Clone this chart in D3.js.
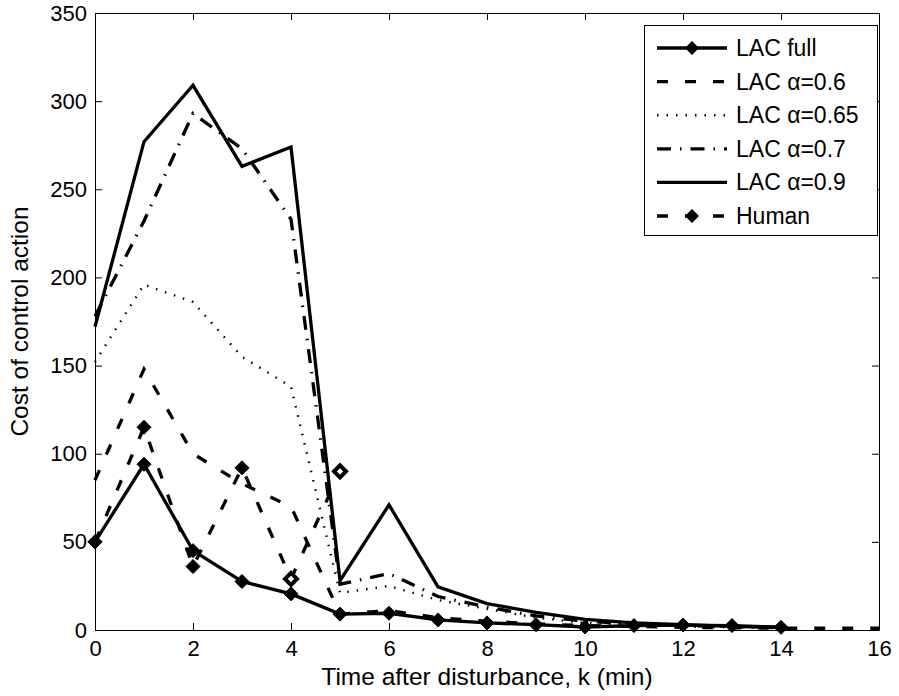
<html>
<head>
  <script src="https://d3js.org/d3.v7.min.js"></script>
<title>Cost of control action</title>
<style>
  body { margin: 0; background: #fff; }
  text { font-family: "Liberation Sans", Arial, Helvetica, sans-serif; fill: #000; }
</style>
</head>
<body>

<div id="chart"></div>

<script type="text/javascript">

// values, one entry per minute starting at k = 0
var lacFull = [50, 94, 45, 27.5, 20.5, 9, 9.5, 5.7, 4, 3, 1.7, 2.5, 2.8, 2.5, 1.5];
var lac060  = [85, 148, 100, 83, 70, 9, 11, 7, 5, 3.5, 2.5, 2, 1.5, 1.2, 1, 1, 1];
var lac065  = [152, 196, 186, 155, 138, 21, 25, 17, 12, 7, 4, 3, 2, 1.5, 1];
var lac070  = [178, 232, 293, 273, 233, 26, 32, 19, 13, 8, 5, 3.5, 2.5, 2, 1.5];
var lac090  = [172, 277, 309, 263, 274, 28, 71, 24.5, 15, 10, 6, 4, 3, 2, 1.5];
var human   = [50, 115, 36, 92, 29, 90];

var seriesNames = ["LAC full", "LAC \u03b1=0.6", "LAC \u03b1=0.65", "LAC \u03b1=0.7", "LAC \u03b1=0.9", "Human"];
var xTicks = [0, 2, 4, 6, 8, 10, 12, 14, 16];
var yTicks = [0, 50, 100, 150, 200, 250, 300, 350];

var W = 899, H = 696;
// (plotTop, not "top": that name is taken by window.top)
var plotLeft = 95, plotRight = 879, plotTop = 13, plotBottom = 630;

var svg = d3.select("#chart").append("svg")
  .attr("width", W).attr("height", H);

var x = d3.scaleLinear().domain([0, 16]).range([plotLeft, plotRight]);
var y = d3.scaleLinear().domain([0, 350]).range([plotBottom, plotTop]);

// axes with inward ticks on all four sides (matlab box style)
var tl = 7;
function styleAxis(g) {
  g.selectAll("path.domain").attr("stroke", "#000").attr("stroke-width", 1);
  g.selectAll(".tick line").attr("stroke", "#000").attr("stroke-width", 1);
  g.selectAll(".tick text").style("font-size", "22px")
    .style("font-family", "'Liberation Sans', Arial, sans-serif").attr("fill", "#000");
}
svg.append("g").attr("transform", "translate(0," + plotBottom + ")")
  .call(d3.axisBottom(x).tickValues(xTicks).tickSizeInner(-tl).tickSizeOuter(0).tickPadding(10))
  .call(styleAxis);
svg.append("g").attr("transform", "translate(0," + plotTop + ")")
  .call(d3.axisTop(x).tickValues(xTicks).tickSizeInner(-tl).tickSizeOuter(0).tickFormat(""))
  .call(styleAxis);
svg.append("g").attr("transform", "translate(" + plotLeft + ",0)")
  .call(d3.axisLeft(y).tickValues(yTicks).tickSizeInner(-tl).tickSizeOuter(0).tickPadding(8))
  .call(styleAxis);
svg.append("g").attr("transform", "translate(" + plotRight + ",0)")
  .call(d3.axisRight(y).tickValues(yTicks).tickSizeInner(-tl).tickSizeOuter(0).tickFormat(""))
  .call(styleAxis);

// axis titles
svg.append("text")
  .attr("x", (plotLeft + plotRight) / 2).attr("y", 685)
  .attr("text-anchor", "middle")
  .style("font-size", "24.5px")
  .text("Time after disturbance, k (min)");
svg.append("text")
  .attr("transform", "translate(28," + ((plotTop + plotBottom) / 2) + ") rotate(-90)")
  .attr("text-anchor", "middle")
  .style("font-size", "24.5px")
  .text("Cost of control action");

// line styles per series
var styles = [
  { dash: null,         width: 3.3, marker: true },
  { dash: "11,17",      width: 3.3, marker: false },
  { dash: "1.5,8",      width: 2.4, marker: false },
  { dash: "14,9,1.5,9", width: 3.3, marker: false },
  { dash: null,         width: 3.3, marker: false },
  { dash: "11,17",      width: 3.3, marker: true }
];
var allSeries = [lacFull, lac060, lac065, lac070, lac090, human];

var line = d3.line()
  .x(function (d, i) { return x(i); })
  .y(function (d) { return y(d); });

function diamond(s) {
  return "M0," + (-s) + "L" + s + ",0L0," + s + "L" + (-s) + ",0Z";
}

var plot = svg.append("g");
allSeries.forEach(function (vals, k) {
  var st = styles[k];
  plot.append("path")
    .attr("d", line(vals))
    .attr("fill", "none")
    .attr("stroke", "#000")
    .attr("stroke-width", st.width)
    .attr("stroke-linejoin", "miter")
    .attr("stroke-linecap", "butt")
    .attr("stroke-dasharray", st.dash);
  if (st.marker) {
    plot.selectAll(null)
      .data(vals)
      .enter()
      .append("path")
        .attr("transform", function (d, i) { return "translate(" + x(i) + "," + y(d) + ")"; })
        .attr("d", function (d, i) { return (k === 5 && i >= 4) ? diamond(6) : diamond(7); })
        // the last two human points show as open diamonds in the figure
        .attr("fill", function (d, i) { return (k === 5 && i >= 4) ? "#fff" : "#000"; })
        .attr("stroke", "#000")
        .attr("stroke-width", function (d, i) { return (k === 5 && i >= 4) ? 4 : 1; });
  }
});

// legend
var lg = svg.append("g");
lg.append("rect")
  .attr("x", 644.5).attr("y", 25.5)
  .attr("width", 233).attr("height", 210)
  .attr("fill", "#fff").attr("stroke", "#000").attr("stroke-width", 1);

var rowY = d3.scaleLinear().domain([0, 5]).range([48, 216]);
seriesNames.forEach(function (name, k) {
  var st = styles[k];
  var yy = rowY(k);
  lg.append("line")
    .attr("x1", 657).attr("x2", 727)
    .attr("y1", yy).attr("y2", yy)
    .attr("stroke", "#000")
    .attr("stroke-width", st.width)
    .attr("stroke-dasharray", st.dash);
  if (st.marker) {
    lg.append("path")
      .attr("transform", "translate(692," + yy + ")")
      .attr("d", diamond(7))
      .attr("fill", "#000");
  }
  lg.append("text")
    .attr("x", 736).attr("y", yy + 8)
    .style("font-size", "23px")
    .text(name);
});

</script>
</body>
</html>
